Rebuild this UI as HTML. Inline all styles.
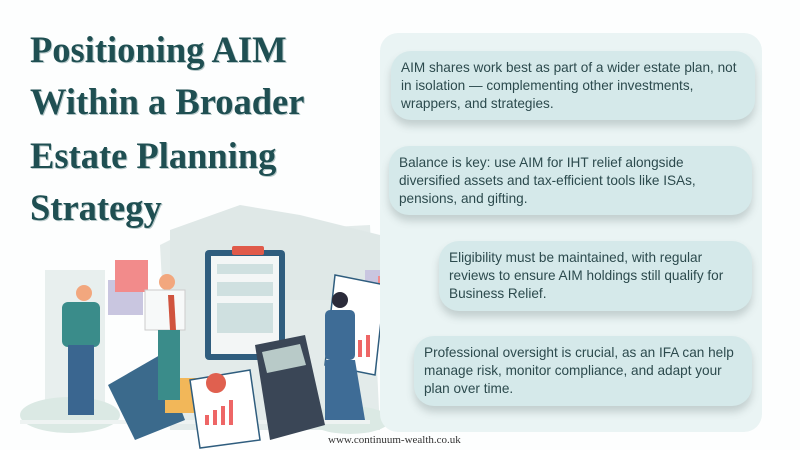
<!DOCTYPE html>
<html><head><meta charset="utf-8"><style>
body{margin:0;width:800px;height:450px;background:#fdfefe;position:relative;overflow:hidden;font-family:"Liberation Sans",sans-serif}
.t{position:absolute;left:30px;font-family:"Liberation Serif",serif;font-weight:bold;font-size:36.5px;color:#1f4f52;text-shadow:1px 1px 0 #b8c9ca;line-height:1;white-space:nowrap}
.panel{position:absolute;left:380px;top:33px;width:382px;height:399px;background:#eaf4f4;border-radius:18px}
.c{position:absolute;background:#d5e9ea;border-radius:20px;box-shadow:0 6px 8px rgba(80,100,100,.25);color:#2c4a4d;font-size:13.6px;line-height:18px;padding:0 6px 0 10px;box-sizing:border-box;display:flex;align-items:center}
.foot{position:absolute;left:328px;top:434px;font-family:"Liberation Serif",serif;font-size:11px;color:#333}
</style></head><body>
<div class="t" style="top:32px">Positioning AIM</div>
<div class="t" style="top:84px">Within a Broader</div>
<div class="t" style="top:138px">Estate Planning</div>
<div class="t" style="top:190px">Strategy</div>
<svg style="position:absolute;left:0;top:0" width="800" height="450">
<polygon points="160,245 180,235 370,225 380,430 170,430" fill="#e3ebea"/>
<polygon points="170,230 240,205 300,215 380,235 380,300 170,300" fill="#dfe8e7"/>
<rect x="45" y="270" width="60" height="140" fill="#e8efee"/>
<ellipse cx="70" cy="415" rx="50" ry="18" fill="#dbe9e4"/>
<ellipse cx="350" cy="420" rx="40" ry="14" fill="#dbe9e4"/>
<rect x="20" y="420" width="350" height="4" fill="#eef3f2"/>
<rect x="205" y="250" width="80" height="110" fill="#2f5d7e" rx="4"/>
<rect x="211" y="256" width="68" height="98" fill="#f3f6f6"/>
<rect x="217" y="264" width="56" height="10" fill="#cfe0e0"/>
<rect x="217" y="282" width="56" height="14" fill="#cfe0e0"/>
<rect x="217" y="303" width="56" height="30" fill="#cfe0e0"/>
<rect x="232" y="246" width="32" height="9" fill="#e05a4a" rx="2"/>
<rect x="108" y="280" width="35" height="35" fill="#c9c6e0"/>
<rect x="115" y="260" width="33" height="32" fill="#f28b8b"/>
<rect x="365" y="270" width="30" height="40" fill="#c9c6e0"/>
<rect x="378" y="276" width="36" height="36" fill="#f28b8b"/>
<polygon points="335,275 385,285 375,375 325,365" fill="#fff" stroke="#2f5d7e" stroke-width="1.5"/>
<rect x="350" y="345" width="4" height="12" fill="#e66"/><rect x="358" y="340" width="4" height="17" fill="#e66"/><rect x="366" y="335" width="4" height="22" fill="#e66"/>
<polygon points="108,385 160,355 185,420 135,440" fill="#3b6a8c"/>
<rect x="165" y="378" width="35" height="35" fill="#f2b759"/>
<polygon points="190,380 250,370 260,440 200,448" fill="#fff" stroke="#2f5d7e" stroke-width="1.5"/>
<circle cx="216" cy="383" r="10" fill="#e0604f"/>
<rect x="205" y="415" width="4" height="10" fill="#e66"/><rect x="213" y="410" width="4" height="15" fill="#e66"/><rect x="221" y="406" width="4" height="19" fill="#e66"/><rect x="229" y="400" width="4" height="25" fill="#e66"/>
<polygon points="255,345 305,335 325,425 270,440" fill="#3a4656"/>
<polygon points="262,352 300,344 306,365 267,373" fill="#b8cac8"/>
<circle cx="84" cy="293" r="8" fill="#f2a77e"/><rect x="62" y="302" width="38" height="45" fill="#3a8c8a" rx="6"/><rect x="68" y="345" width="26" height="70" fill="#3a6690"/>
<circle cx="167" cy="282" r="8" fill="#f2a77e"/><rect x="145" y="290" width="40" height="40" fill="#f7f9f9" stroke="#ccc"/><rect x="158" y="330" width="22" height="70" fill="#3a8c8a"/><polygon points="168,295 174,295 176,330 170,330" fill="#d0533e"/>
<circle cx="340" cy="300" r="8" fill="#2b2b3a"/><rect x="325" y="310" width="30" height="50" fill="#3e6c96" rx="5"/><polygon points="325,360 355,360 365,420 325,420" fill="#3e6c96"/>
</svg>
<div class="panel"></div>
<div class="c" style="left:391px;top:51px;width:364px;height:69px">AIM shares work best as part of a wider estate plan, not in isolation — complementing other investments, wrappers, and strategies.</div>
<div class="c" style="left:389px;top:146px;width:363px;height:69px">Balance is key: use AIM for IHT relief alongside diversified assets and tax-efficient tools like ISAs, pensions, and gifting.</div>
<div class="c" style="left:439px;top:241px;width:313px;height:70px;padding-right:14px">Eligibility must be maintained, with regular reviews to ensure AIM holdings still qualify for Business Relief.</div>
<div class="c" style="left:414px;top:336px;width:338px;height:70px">Professional oversight is crucial, as an IFA can help manage risk, monitor compliance, and adapt your plan over time.</div>
<div class="foot">www.continuum-wealth.co.uk</div>
</body></html>
